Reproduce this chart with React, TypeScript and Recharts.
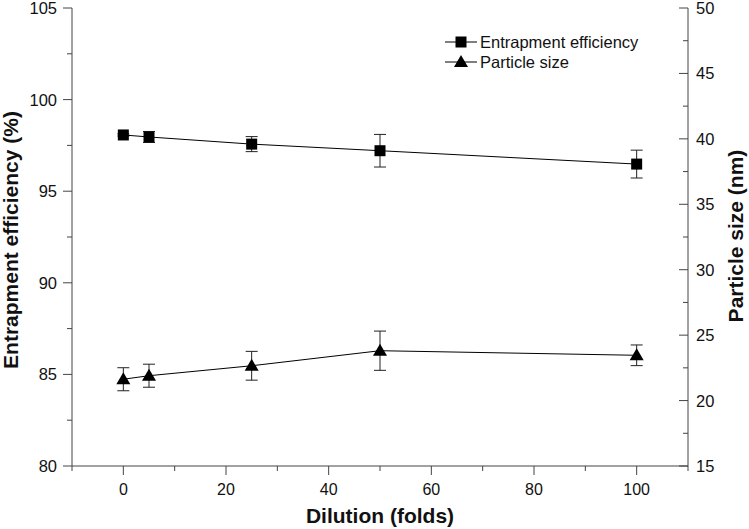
import { ComposedChart, Line, XAxis, YAxis, ErrorBar } from "recharts";

const DILUTION = [0, 5, 25, 50, 100];
const EE = [98.07, 97.96, 97.57, 97.21, 96.48];
const EE_ERR = [0.06, 0.3, 0.41, 0.89, 0.76];
const SIZE = [21.63, 21.9, 22.66, 23.81, 23.46];
const SIZE_ERR = [0.88, 0.88, 1.1, 1.5, 0.79];

const X_TICKS = [-10, 0, 10, 20, 30, 40, 50, 60, 70, 80, 90, 100, 110];
const EE_TICKS = [80, 82.5, 85, 87.5, 90, 92.5, 95, 97.5, 100, 102.5, 105];
const SIZE_TICKS = [15, 17.5, 20, 22.5, 25, 27.5, 30, 32.5, 35, 37.5, 40, 42.5, 45, 47.5, 50];

const DATA = DILUTION.map((x, i) => ({
  x,
  ee: EE[i],
  eeErr: EE_ERR[i],
  size: SIZE[i],
  sizeErr: SIZE_ERR[i],
}));

const FONT = "'Liberation Sans', Arial, Helvetica, sans-serif";
const AXIS = "#444";
const W = 749;
const H = 529;

// major ticks get a label, minor ticks are just shorter marks
function tickFor(side: "bottom" | "top" | "left" | "right", major: (v: number) => boolean) {
  return (props: any) => {
    const { x, y, payload } = props;
    const v = payload.value;
    const isMajor = major(v);
    const len = isMajor ? 9 : 5;
    if (side === "bottom") {
      return (
        <g>
          <line x1={x} x2={x} y1={y} y2={y + len} stroke={AXIS} strokeWidth={1} />
          {isMajor && (
            <text x={x} y={y + 29} textAnchor="middle" fontSize={16} fontFamily={FONT} fill="#111">{v}</text>
          )}
        </g>
      );
    }
    if (side === "top") {
      return <line x1={x} x2={x} y1={y} y2={y + len} stroke={AXIS} strokeWidth={1} />;
    }
    if (side === "left") {
      return (
        <g>
          <line x1={x} x2={x - len} y1={y} y2={y} stroke={AXIS} strokeWidth={1} />
          {isMajor && (
            <text x={x - 15} y={y + 6} textAnchor="end" fontSize={16.5} fontFamily={FONT} fill="#111">{v}</text>
          )}
        </g>
      );
    }
    return (
      <g>
        <line x1={x} x2={x - len} y1={y} y2={y} stroke={AXIS} strokeWidth={1} />
        {isMajor && (
          <text x={x + 8} y={y + 6} textAnchor="start" fontSize={16.5} fontFamily={FONT} fill="#111">{v}</text>
        )}
      </g>
    );
  };
}

const SquareDot = (p: any) => {
  if (p.cx == null || p.cy == null) return <g key={p.key} />;
  return <rect key={p.key} x={p.cx - 5.5} y={p.cy - 5.5} width={11} height={11} fill="#000" />;
};

const TriDot = (p: any) => {
  if (p.cx == null || p.cy == null) return <g key={p.key} />;
  const { cx, cy } = p;
  return <polygon key={p.key} points={`${cx},${cy - 7} ${cx - 7},${cy + 5} ${cx + 7},${cy + 5}`} fill="#000" />;
};

function LegendRow({ label, marker }: { label: string; marker: "square" | "tri" }) {
  return (
    <div style={{ display: "flex", alignItems: "center", height: 20 }}>
      <svg width={34} height={20} style={{ display: "block" }}>
        <line x1={0} x2={32} y1={10} y2={10} stroke="#000" strokeWidth={1} />
        {marker === "square"
          ? <rect x={10.5} y={4.5} width={11} height={11} fill="#000" />
          : <polygon points="16,3 9,15 23,15" fill="#000" />}
      </svg>
      <span style={{ fontSize: 16.5, fontFamily: FONT, color: "#111", marginLeft: 1 }}>{label}</span>
    </div>
  );
}

export default function App() {
  return (
    <div style={{ position: "fixed", left: 0, top: 0, width: W, height: H, background: "#fff" }}>
      <ComposedChart width={W} height={H} data={DATA} margin={{ top: 8, right: 0, bottom: 0, left: 0 }}>
        <XAxis
          xAxisId="b" dataKey="x" type="number" domain={[-10, 110]} ticks={X_TICKS}
          orientation="bottom" height={63} stroke={AXIS} tickSize={0} tickMargin={0} tickLine={false}
          interval={0} allowDataOverflow
          tick={tickFor("bottom", (v) => v >= 0 && v <= 100 && v % 20 === 0)}
          label={{
            content: () => (
              <text x={380} y={523} textAnchor="middle" fontSize={21} fontWeight="bold" fontFamily={FONT} fill="#111">
                Dilution (folds)
              </text>
            ),
          }}
        />
        <XAxis
          xAxisId="t" dataKey="x" type="number" domain={[-10, 110]} ticks={X_TICKS}
          orientation="top" height={0} stroke={AXIS} tickSize={0} tickMargin={0} tickLine={false}
          interval={0} allowDataOverflow
          tick={tickFor("top", (v) => v >= 0 && v <= 100 && v % 20 === 0)}
        />
        <YAxis
          yAxisId="l" orientation="left" width={72} domain={[80, 105]} ticks={EE_TICKS}
          stroke={AXIS} tickSize={0} tickMargin={0} tickLine={false} interval={0} allowDataOverflow
          tick={tickFor("left", (v) => v % 5 === 0)}
          label={{
            content: () => (
              <text x={18} y={240} transform="rotate(-90, 18, 240)" textAnchor="middle" fontSize={21} fontWeight="bold" fontFamily={FONT} fill="#111">
                Entrapment efficiency (%)
              </text>
            ),
          }}
        />
        <YAxis
          yAxisId="r" orientation="right" width={61} domain={[15, 50]} ticks={SIZE_TICKS}
          stroke={AXIS} tickSize={0} tickMargin={0} tickLine={false} interval={0} allowDataOverflow
          tick={tickFor("right", (v) => v % 5 === 0)}
          label={{
            content: () => (
              <text x={743} y={236} transform="rotate(-90, 743, 236)" textAnchor="middle" fontSize={21} fontWeight="bold" fontFamily={FONT} fill="#111">
                Particle size (nm)
              </text>
            ),
          }}
        />
        <Line
          xAxisId="b" yAxisId="l" dataKey="ee" name="Entrapment efficiency" stroke="#000" strokeWidth={1}
          dot={SquareDot} activeDot={false} isAnimationActive={false}
        >
          <ErrorBar dataKey="eeErr" direction="y" width={6} stroke="#222" strokeWidth={1} isAnimationActive={false} />
        </Line>
        <Line
          xAxisId="b" yAxisId="r" dataKey="size" name="Particle size" stroke="#000" strokeWidth={1}
          dot={TriDot} activeDot={false} isAnimationActive={false}
        >
          <ErrorBar dataKey="sizeErr" direction="y" width={6} stroke="#222" strokeWidth={1} isAnimationActive={false} />
        </Line>
      </ComposedChart>
      <div style={{ position: "absolute", left: 445, top: 32 }}>
        <LegendRow label="Entrapment efficiency" marker="square" />
        <LegendRow label="Particle size" marker="tri" />
      </div>
    </div>
  );
}
